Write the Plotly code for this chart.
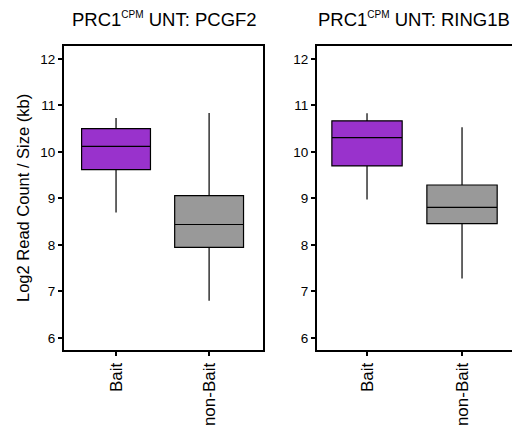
import plotly.graph_objects as go

categories = ["Bait", "non-Bait"]
panel_titles = ["PRC1<sup><span style='font-size:10px'>CPM</span></sup> UNT: PCGF2",
                "PRC1<sup><span style='font-size:10px'>CPM</span></sup> UNT: RING1B"]
y_title = "Log2 Read Count / Size (kb)"
colors = ["#9932CC", "#999999"]

# panel 1 (PCGF2)
p1_low = [8.70, 6.80]
p1_q1 = [9.62, 7.95]
p1_med = [10.12, 8.44]
p1_q3 = [10.50, 9.06]
p1_high = [10.73, 10.84]

# panel 2 (RING1B)
p2_low = [8.98, 7.28]
p2_q1 = [9.70, 8.46]
p2_med = [10.31, 8.81]
p2_q3 = [10.67, 9.29]
p2_high = [10.83, 10.53]

W, H = 512, 432
fig = go.Figure()

panels = [
    ("x", "y", p1_low, p1_q1, p1_med, p1_q3, p1_high),
    ("x2", "y2", p2_low, p2_q1, p2_med, p2_q3, p2_high),
]
for xa, ya, lo, q1, med, q3, hi in panels:
    for i, c in enumerate(categories):
        fig.add_trace(go.Box(
            x=[c], lowerfence=[lo[i]], q1=[q1[i]], median=[med[i]],
            q3=[q3[i]], upperfence=[hi[i]],
            fillcolor=colors[i], line=dict(color="black", width=1.2),
            width=0.74, whiskerwidth=0, showlegend=False,
            xaxis=xa, yaxis=ya, hoverinfo="skip",
        ))

font = "Liberation Sans, Arial, sans-serif"
top, bottom = 45, 351
ydom = [1 - bottom / H, 1 - top / H]
d1 = [63 / W, 264 / W]
d2 = [316 / W, 1.0]

common_x = dict(type="category", showgrid=False, zeroline=False, ticks="outside",
                ticklen=4, tickwidth=1.5, tickcolor="black", tickangle=-90,
                tickfont=dict(family=font, size=17, color="black"), showline=False)
common_y = dict(range=[5.72, 12.3], showgrid=False, zeroline=False, ticks="outside",
                ticklen=4, tickwidth=1.5, tickcolor="black", tickvals=[6, 7, 8, 9, 10, 11, 12],
                tickfont=dict(family=font, size=13.5, color="black"), showline=False)

fig.update_layout(
    width=W, height=H,
    margin=dict(l=0, r=0, t=0, b=0),
    paper_bgcolor="white", plot_bgcolor="white",
    boxmode="overlay",
    xaxis=dict(domain=d1, range=[-0.57, 1.59], anchor="y", **common_x),
    yaxis=dict(domain=ydom, anchor="x", **common_y),
    xaxis2=dict(domain=d2, range=[-0.537, 1.526], anchor="y2", **common_x),
    yaxis2=dict(domain=ydom, anchor="x2", **common_y),
)

# frames
for x0, x1 in [(63, 264), (316, 518)]:
    fig.add_shape(type="rect", xref="paper", yref="paper",
                  x0=x0 / W, x1=x1 / W, y0=ydom[0], y1=ydom[1],
                  line=dict(color="black", width=2), layer="above")

# y-axis title
fig.add_annotation(x=23 / W, y=1 - 198 / H, xref="paper", yref="paper",
                   text=y_title, textangle=-90, showarrow=False,
                   xanchor="center", yanchor="middle",
                   font=dict(family=font, size=16.5, color="black"))

# titles
for cx, t in zip([164, 414], panel_titles):
    fig.add_annotation(x=cx / W, y=1 - 20 / H, xref="paper", yref="paper",
                       text=t, showarrow=False, xanchor="center", yanchor="middle",
                       font=dict(family=font, size=18.5, color="black"))

fig.write_html("out.html")
